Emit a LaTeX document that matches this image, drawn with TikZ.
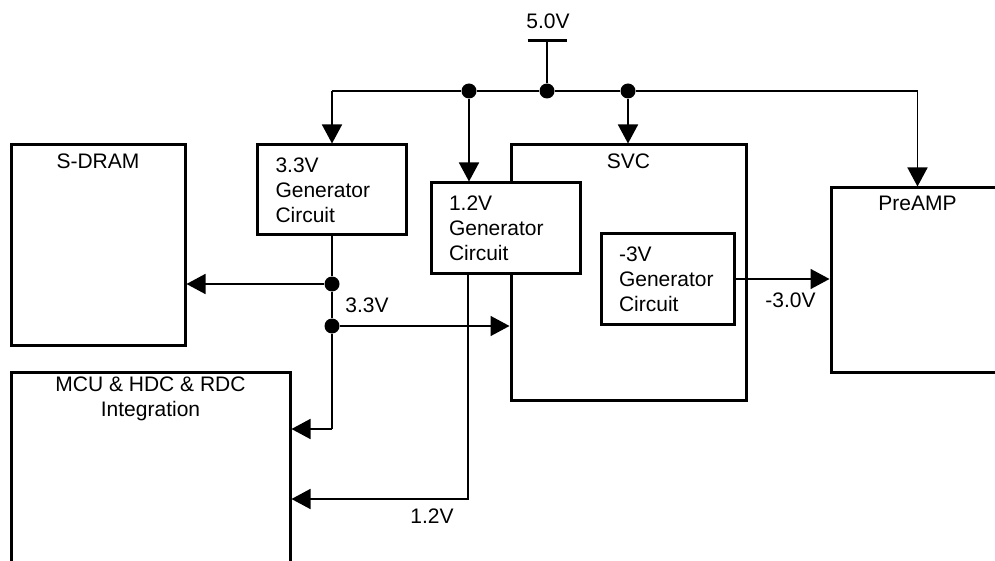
\documentclass[tikz,border=0pt]{standalone}
\usepackage{fontspec}
\setmainfont{Liberation Sans}
\usetikzlibrary{arrows.meta,positioning}

\begin{document}
\begin{tikzpicture}[
  x=0.5pt, y=-0.5pt,
  font=\fontsize{10.5}{12.5}\selectfont,
  box/.style={rectangle, draw, line width=1.5pt, fill=white, inner sep=0pt},
  genbox/.style={box, align=left, inner xsep=9pt, minimum height=45pt},
  wire/.style={line width=0.8pt},
  arrow/.style={wire, -{Triangle[length=9.5pt,width=10pt]}},
  dot/.style={circle, fill, inner sep=0pt, minimum size=7.5pt},
  lbl/.style={inner sep=0pt}
]
  \clip (0,0) rectangle (995,561);

  % blocks
  \node[box, minimum width=87pt, minimum height=100pt] (sdram) at (98,245) {};
  \node[box, minimum width=117.5pt, minimum height=127.5pt] (svc) at (628.5,272.5) {};
  \node[box, minimum width=86.5pt, minimum height=92pt] (preamp) at (917.5,280) {};
  \node[box, minimum width=139.5pt, minimum height=114pt] (mcu) at (150.5,486) {};
  \node[genbox, text width=56.5pt] (gen33) at (332,190) {3.3V\\Generator\\Circuit};
  \node[genbox, text width=56.5pt] (gen12) at (505.5,228) {1.2V\\Generator\\Circuit};
  \node[genbox, text width=48.5pt] (gen3) at (667.5,279) {-3V\\Generator\\Circuit};

  \node[lbl, below=5pt of sdram.north] (sdramlbl) {S-DRAM};
  \node[lbl, below=5pt of svc.north] (svclbl) {SVC};
  \node[lbl, below=4.5pt of preamp.north] (preamplbl) {PreAMP};
  \node[lbl, below=3pt of mcu.north, align=center] (mculbl) {MCU \& HDC \& RDC\\Integration};

  % 5.0V supply bus
  \node[lbl, anchor=base] (v5) at (548,29) {5.0V};
  \coordinate (vbar) at (547,41);
  \draw[line width=1.5pt] ([xshift=-9.75pt]vbar) -- ([xshift=9.75pt]vbar);
  \node[dot] (d12) at (469,91) {};
  \node[dot] (d5) at (547,91) {};
  \node[dot] (dsvc) at (628,91) {};
  \coordinate (busl) at (332,91);
  \coordinate (busr) at (917.5,91);
  \draw[wire] (vbar) -- (d5);
  \draw[wire] (busl) -- (d12) -- (d5) -- (dsvc) -- (busr);
  \draw[arrow] (busl) -- (gen33);
  \draw[arrow] (d12) -- (d12 |- gen12.north);
  \draw[arrow] (dsvc) -- (dsvc |- svc.north);
  \draw[arrow] (busr) -- (preamp);

  % 3.3V
  \node[dot] (j1) at (332,284) {};
  \node[dot] (j2) at (332,326) {};
  \coordinate (c33) at (332,429);
  \draw[wire] (gen33) -- (j1) -- (j2) -- (c33);
  \draw[arrow] (j1) -- (j1 -| sdram.east);
  \draw[arrow] (j2) -- (j2 -| svc.west);
  \draw[arrow] (c33) -- (c33 -| mcu.east);
  \node[lbl, anchor=base west] (l33) at (345,312) {3.3V};

  % 1.2V
  \coordinate (c12) at (468,499);
  \draw[arrow] (gen12.south -| c12) -- (c12) -- (c12 -| mcu.east);
  \node[lbl, anchor=base west] (l12) at (410,523) {1.2V};

  % -3.0V
  \draw[arrow] (gen3) -- (gen3 -| preamp.west);
  \node[lbl, anchor=base west] (l30) at (765,307) {-3.0V};
\end{tikzpicture}
\end{document}
